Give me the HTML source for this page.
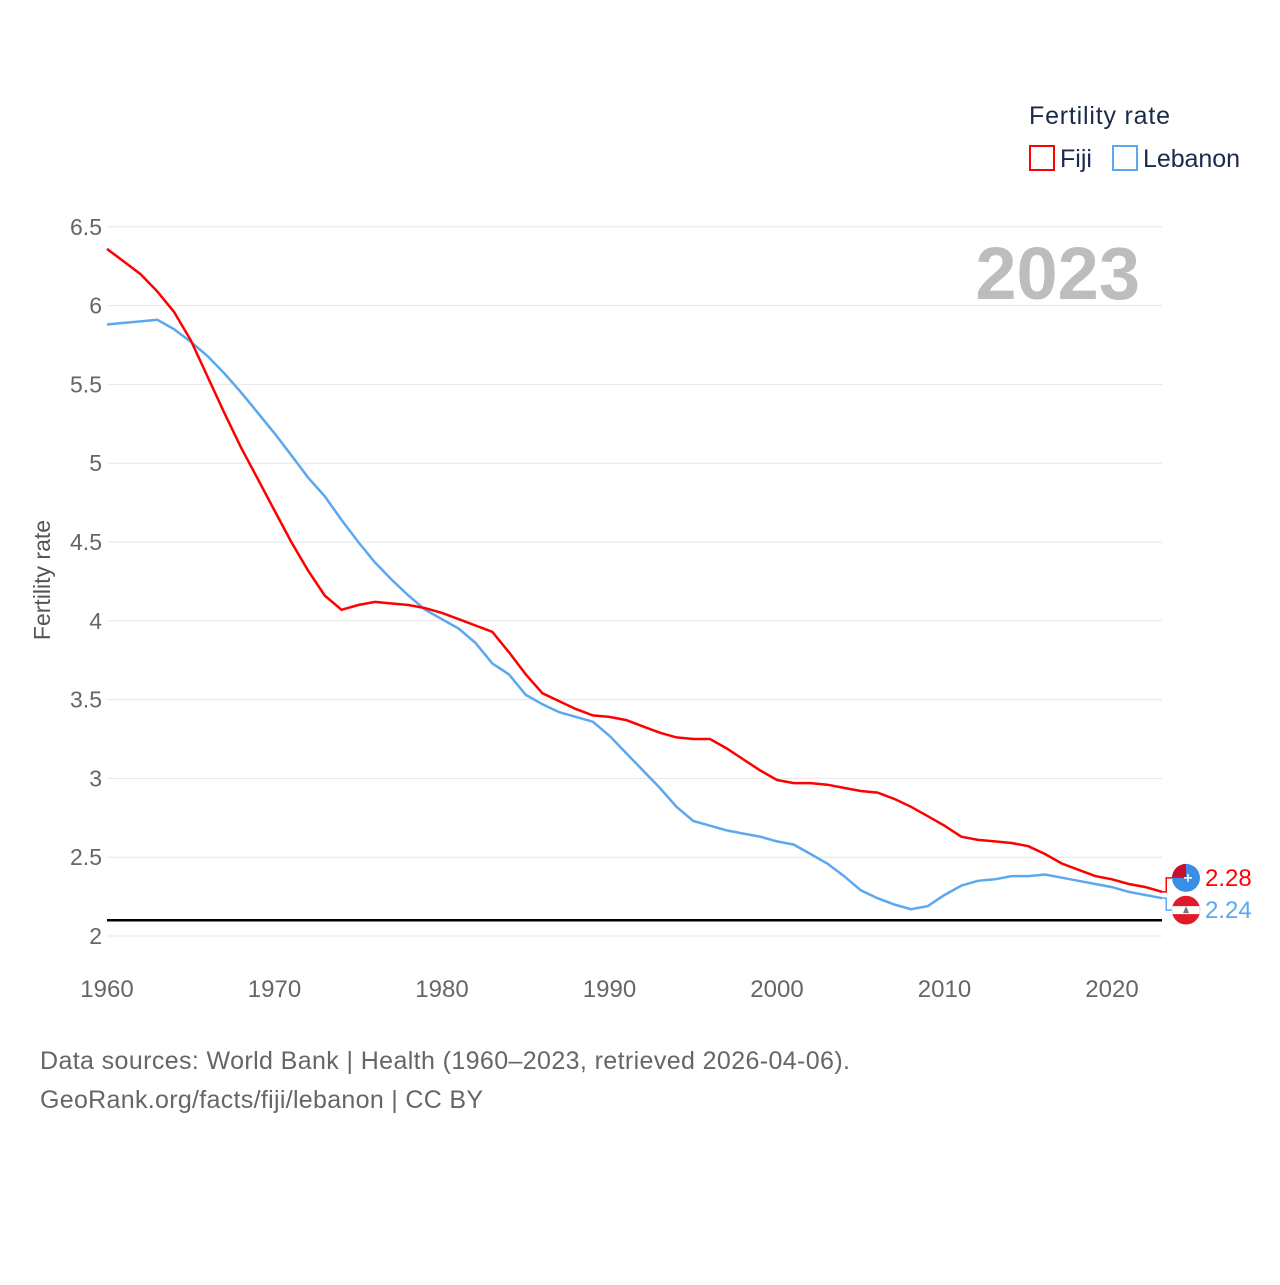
<!DOCTYPE html>
<html><head><meta charset="utf-8">
<style>
body{margin:0;background:#fff;font-family:"Liberation Sans",sans-serif;}
svg text{font-family:"Liberation Sans",sans-serif;}
</style></head>
<body>
<svg id="chart" width="1280" height="1280" viewBox="0 0 1280 1280">
<g id="grid"></g>
<g id="series"></g>
<text x="1029" y="124" font-size="25" fill="#1a2a4a" textLength="141">Fertility rate</text>
<rect x="1030" y="146" width="24" height="24" fill="none" stroke="#ff0000" stroke-width="2"/>
<text x="1060" y="167" font-size="25" fill="#1a2a4a">Fiji</text>
<rect x="1113" y="146" width="24" height="24" fill="none" stroke="#5ba8f0" stroke-width="2"/>
<text x="1143" y="167" font-size="25" fill="#1a2a4a" textLength="97">Lebanon</text>
<text x="1140" y="299" font-size="74" font-weight="bold" fill="#bdbdbd" text-anchor="end">2023</text>
<text transform="translate(50,580) rotate(-90)" font-size="23" fill="#555" text-anchor="middle">Fertility rate</text>
<text x="40" y="1069" font-size="25" fill="#666" textLength="810">Data sources: World Bank | Health (1960–2023, retrieved 2026-04-06).</text>
<text x="40" y="1108" font-size="25" fill="#666" textLength="443">GeoRank.org/facts/fiji/lebanon | CC BY</text>
</svg>
<script>
const years=[];for(let y=1960;y<=2023;y++)years.push(y);
const fiji=[6.36,6.28,6.20,6.09,5.96,5.78,5.55,5.32,5.10,4.90,4.70,4.50,4.32,4.16,4.07,4.10,4.12,4.11,4.10,4.08,4.05,4.01,3.97,3.93,3.80,3.66,3.54,3.49,3.44,3.40,3.39,3.37,3.33,3.29,3.26,3.25,3.25,3.19,3.12,3.05,2.99,2.97,2.97,2.96,2.94,2.92,2.91,2.87,2.82,2.76,2.70,2.63,2.61,2.60,2.59,2.57,2.52,2.46,2.42,2.38,2.36,2.33,2.31,2.28];
const lebanon=[5.88,5.89,5.90,5.91,5.85,5.77,5.68,5.57,5.45,5.32,5.19,5.05,4.91,4.79,4.64,4.50,4.37,4.26,4.16,4.07,4.01,3.95,3.86,3.73,3.66,3.53,3.47,3.42,3.39,3.36,3.27,3.16,3.05,2.94,2.82,2.73,2.70,2.67,2.65,2.63,2.60,2.58,2.52,2.46,2.38,2.29,2.24,2.20,2.17,2.19,2.26,2.32,2.35,2.36,2.38,2.38,2.39,2.37,2.35,2.33,2.31,2.28,2.26,2.24];
const yTicks=[2,2.5,3,3.5,4,4.5,5,5.5,6,6.5];
const yTickLabels=["2","2.5","3","3.5","4","4.5","5","5.5","6","6.5"];
const xTicks=[1960,1970,1980,1990,2000,2010,2020];
const replacement=2.1;
const X=y=>107+(y-1960)*16.75;
const Y=v=>936-(v-2)*157.6;
const NS="http://www.w3.org/2000/svg";
const grid=document.getElementById('grid'),ser=document.getElementById('series');
function mk(tag,attrs,parent,text){const e=document.createElementNS(NS,tag);for(const k in attrs)e.setAttribute(k,attrs[k]);if(text!==undefined)e.textContent=text;parent.appendChild(e);return e;}
yTicks.forEach((t,i)=>{
 const l=mk('line',{x1:107,x2:1162,y1:Y(t),y2:Y(t),stroke:'#e6e6e6','stroke-width':1},grid);
 
 
 const tx=mk('text',{x:102,y:Y(t)+8,'font-size':23,fill:'#666','text-anchor':'end'},grid,yTickLabels[i]);
 
 
});
xTicks.forEach(t=>{
 const tx=mk('text',{x:X(t),y:997,'font-size':24,fill:'#666','text-anchor':'middle'},grid,String(t));
 
 
});
const rl=mk('line',{x1:107,x2:1162,y1:Y(replacement),y2:Y(replacement),stroke:'#000','stroke-width':2.5},grid);


function line(vals,color,name){
 const d=vals.map((v,i)=>(i?'L':'M')+X(years[i]).toFixed(1)+','+Y(v).toFixed(1)).join('');
 const p=mk('path',{d:d,fill:'none',stroke:color,'stroke-width':2.5},ser);
 
 
}
line(lebanon,'#5ba8f0','lebanon-line');
line(fiji,'#ff0000','fiji-line');
const lastF=fiji[fiji.length-1],lastL=lebanon[lebanon.length-1];
const xe=X(2023);
const fy=Y(lastF)-14,ly=Y(lastL)+12;
mk('path',{d:`M${xe},${Y(lastF)}h4V${fy}h8`,fill:'none',stroke:'#ff0000','stroke-width':1.5},ser);
mk('path',{d:`M${xe},${Y(lastL)}h4V${ly}h8`,fill:'none',stroke:'#5ba8f0','stroke-width':1.5},ser);
const f1=mk('circle',{cx:1186,cy:fy,r:14,fill:'#3a8ee6'},ser);


mk('path',{d:`M1172,${fy}a14,14 0 0 1 14,-14v14z`,fill:'#c8102e'},ser);
mk('path',{d:`M1184,${fy}h8M1188,${fy-4}v8`,stroke:'#fff','stroke-width':1.5},ser);
const f2=mk('circle',{cx:1186,cy:ly,r:14,fill:'#fff',stroke:'#ddd'},ser);


mk('path',{d:`M1172,${ly}m0.5,-4a14,14 0 0 1 27,0z`,fill:'#e01a2a'},ser);
mk('path',{d:`M1172,${ly}m0.5,4a14,14 0 0 0 27,0z`,fill:'#e01a2a'},ser);
mk('path',{d:`M1186,${ly-4}l-3,7h6z`,fill:'#777'},ser);
const v1=mk('text',{x:1205,y:fy+8,'font-size':24,fill:'#ff0000'},ser,lastF.toFixed(2));


const v2=mk('text',{x:1205,y:ly+8,'font-size':24,fill:'#5ba8f0'},ser,lastL.toFixed(2));


</script>
</body></html>
